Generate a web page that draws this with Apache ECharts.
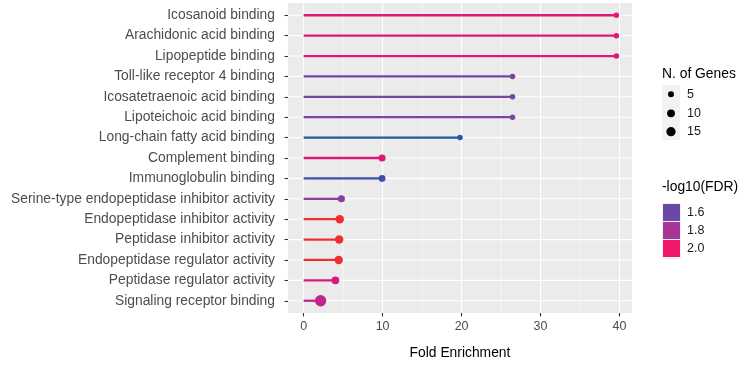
<!DOCTYPE html>
<html>
<head>
<meta charset="utf-8">
<script src="https://cdn.jsdelivr.net/npm/echarts@6/dist/echarts.min.js"></script>
<style>html,body{margin:0;padding:0;background:#fff}#c{width:751px;height:365px}</style>
</head>
<body>
<div id="c"></div>
<script>
const categories = [
  'Icosanoid binding','Arachidonic acid binding','Lipopeptide binding','Toll-like receptor 4 binding',
  'Icosatetraenoic acid binding','Lipoteichoic acid binding','Long-chain fatty acid binding','Complement binding',
  'Immunoglobulin binding','Serine-type endopeptidase inhibitor activity','Endopeptidase inhibitor activity',
  'Peptidase inhibitor activity','Endopeptidase regulator activity','Peptidase regulator activity','Signaling receptor binding'
];
const foldEnrichment = [39.6, 39.6, 39.6, 26.45, 26.45, 26.45, 19.8, 9.93, 9.93, 4.78, 4.57, 4.5, 4.44, 4.02, 2.15];
const geneCounts = [4, 4, 4, 4, 4, 4, 4, 8, 7, 8, 12, 12, 12, 10, 24];
const negLog10FDR = [1.95, 1.95, 1.95, 1.65, 1.65, 1.65, 1.32, 1.95, 1.45, 1.7, 2.2, 2.2, 2.2, 1.93, 1.86];
const xTicks = [0, 10, 20, 30, 40];
const xMinorTicks = [5, 15, 25, 35];
const sizeBreaks = [5, 10, 15];
const colorBreaks = [1.6, 1.8, 2.0];

const colorMin = 1.3, colorMax = 2.2;
const colorStops = ['#1f58a8','#3151a8','#4f4ca6','#6a48a8','#8a3fa0','#a83598','#d01a88','#f0186a','#ef2448','#ee3030'];
function sizeOf(n){ return 1.5 + 2 * Math.sqrt(n); }
function colorOf(v){ return echarts.color.lerp((v - colorMin)/(colorMax - colorMin), colorStops); }

const rowIdx = categories.map((_, i) => i);
const lollipopData = categories.map((_, i) => [foldEnrichment[i], i, negLog10FDR[i], geneCounts[i]]);

const chart = echarts.init(document.getElementById('c'), null, {renderer: 'canvas'});
const FONT = 'Liberation Sans, Arial, sans-serif';
const WORD = 13.85;

function gridLineSeries(values, vertical, width){
  return {
    type: 'custom', silent: true, z: 1,
    data: values.map(v => vertical ? [v, 0] : [0, v]),
    renderItem(params, api){
      const cs = params.coordSys;
      if (vertical){
        const x = api.coord([api.value(0), 0])[0];
        return {type:'line', shape:{x1:x, y1:cs.y, x2:x, y2:cs.y+cs.height}, style:{stroke:'#ffffff', lineWidth:width}};
      } else {
        const y = api.coord([0, api.value(1)])[1];
        return {type:'line', shape:{x1:cs.x, y1:y, x2:cs.x+cs.width, y2:y}, style:{stroke:'#ffffff', lineWidth:width}};
      }
    }
  };
}

const legendGraphics = [];
const LX = 662;
legendGraphics.push({type:'text', x: LX, y: 74, style:{text:'N. of Genes', font:WORD+'px '+FONT, fill:'#000', verticalAlign:'middle'}});
legendGraphics.push({type:'rect', shape:{x:662, y:85, width:18, height:55}, style:{fill:'#f2f2f2'}});
const sizeY = [94.3, 113.3, 131.7];
sizeBreaks.forEach((n, i) => {
  legendGraphics.push({type:'circle', shape:{cx:671, cy:sizeY[i], r:sizeOf(n)/2}, style:{fill:'#000'}});
  legendGraphics.push({type:'text', x:687, y:sizeY[i], style:{text:String(n), font:'12.5px '+FONT, fill:'#1a1a1a', verticalAlign:'middle'}});
});
legendGraphics.push({type:'text', x: LX, y: 187, style:{text:'-log10(FDR)', font:WORD+'px '+FONT, fill:'#000', verticalAlign:'middle'}});
legendGraphics.push({type:'rect', shape:{x:662, y:203, width:19, height:56}, style:{fill:'#f2f2f2'}});
const colY = [204, 222, 240];
colorBreaks.forEach((v, i) => {
  legendGraphics.push({type:'rect', shape:{x:663, y:colY[i], width:17, height:17}, style:{fill:colorOf(v)}});
  legendGraphics.push({type:'text', x:687, y:colY[i]+8.5, style:{text:v.toFixed(1), font:'12.5px '+FONT, fill:'#1a1a1a', verticalAlign:'middle'}});
});

chart.setOption({
  animation: false,
  backgroundColor: '#ffffff',
  grid: {left: 288, right: 119, top: 3, bottom: 45, show: true, backgroundColor: '#ebebeb', borderWidth: 0, containLabel: false},
  xAxis: {
    type: 'value', min: -1.98, max: 41.58,
    name: 'Fold Enrichment', nameLocation: 'middle', nameGap: 33,
    nameTextStyle: {color: '#000', fontSize: WORD, fontFamily: FONT},
    axisLine: {show: false, onZero: false},
    axisTick: {show: true, customValues: xTicks, length: 3.5, lineStyle: {color: '#333', width: 1.1}},
    axisLabel: {customValues: xTicks, color: '#4d4d4d', fontSize: 12.5, fontFamily: FONT, margin: 7},
    splitLine: {show: false}
  },
  yAxis: {
    type: 'value', min: -0.6, max: 14.6, inverse: true,
    axisLine: {show: false, onZero: false},
    axisTick: {show: true, customValues: rowIdx, length: 3.5, lineStyle: {color: '#333', width: 1.1}},
    axisLabel: {customValues: rowIdx, formatter: v => categories[Math.round(v)] || '', color: '#4d4d4d', fontSize: WORD, fontFamily: FONT, margin: 13},
    splitLine: {show: false}
  },
  visualMap: {show: false, type: 'continuous', min: colorMin, max: colorMax, dimension: 2, seriesIndex: 3, inRange: {color: colorStops}},
  series: [
    gridLineSeries(xMinorTicks, true, 0.55),
    gridLineSeries(xTicks, true, 1.1),
    gridLineSeries(rowIdx, false, 1.1),
    {
      type: 'custom', z: 3,
      data: lollipopData,
      renderItem(params, api){
        const y = api.value(1);
        const p0 = api.coord([0, y]);
        const p1 = api.coord([api.value(0), y]);
        const color = api.visual('color');
        return {type:'group', children:[
          {type:'line', shape:{x1:p0[0], y1:p0[1], x2:p1[0], y2:p1[1]}, style:{stroke:color, lineWidth:2.3}},
          {type:'circle', shape:{cx:p1[0], cy:p1[1], r:sizeOf(api.value(3))/2}, style:{fill:color}}
        ]};
      }
    }
  ],
  graphic: legendGraphics
});
</script>
</body>
</html>
